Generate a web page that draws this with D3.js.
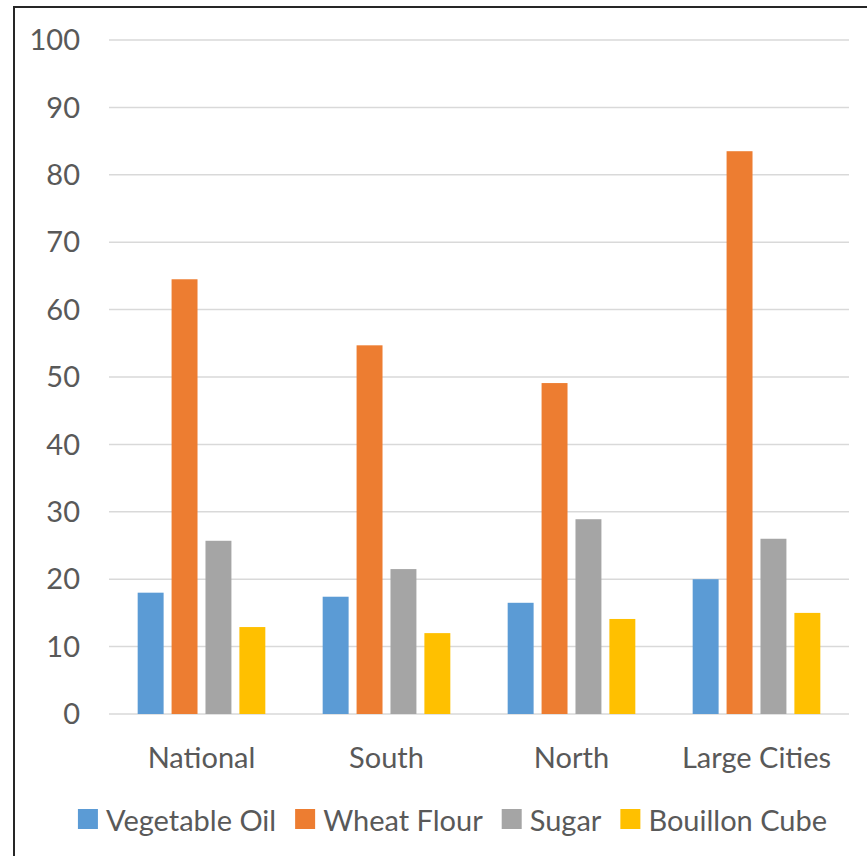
<!DOCTYPE html>
<html>
<head>
<meta charset="utf-8">
<script src="https://cdn.jsdelivr.net/npm/d3@7"></script>
<style>
  body { margin: 0; background: #fff; }
  svg text { font-family: Lato, "Open Sans", sans-serif; fill: #595959; }
</style>
</head>
<body>
<div id="chart"></div>
<script>
// chart data
var regions = ["National", "South", "North", "Large Cities"];
var products = ["Vegetable Oil", "Wheat Flour", "Sugar", "Bouillon Cube"];
var vegetableOil = [18.0, 17.4, 16.5, 20.0];
var wheatFlour = [64.5, 54.7, 49.1, 83.5];
var sugar = [25.7, 21.5, 28.9, 26.0];
var bouillonCube = [12.9, 12.0, 14.1, 15.0];
var yTicks = [0, 10, 20, 30, 40, 50, 60, 70, 80, 90, 100];

var colors = ["#5B9BD5", "#ED7D31", "#A5A5A5", "#FFC000"];
var series = [vegetableOil, wheatFlour, sugar, bouillonCube];

var width = 867, height = 856;
var svg = d3.select("#chart").append("svg")
    .attr("width", width)
    .attr("height", height);

// chart border (right / bottom edges fall outside the picture)
svg.append("rect")
    .attr("x", 14).attr("y", 7)
    .attr("width", 870).attr("height", 870)
    .attr("fill", "none")
    .attr("stroke", "#262626")
    .attr("stroke-width", 2);

var plotLeft = 109, plotRight = 849, plotTop = 40, plotBottom = 714;

var y = d3.scaleLinear().domain([0, 100]).range([plotBottom, plotTop]);
var x0 = d3.scaleBand().domain(regions).range([plotLeft, plotRight])
    .paddingInner(0.31).paddingOuter(0.155);
var x1 = d3.scaleBand().domain(products).range([0, x0.bandwidth()])
    .paddingInner(0.235).paddingOuter(0);

// gridlines
svg.append("g").selectAll("line")
    .data(yTicks)
    .enter().append("line")
    .attr("x1", plotLeft).attr("x2", plotRight)
    .attr("y1", function(d) { return y(d); })
    .attr("y2", function(d) { return y(d); })
    .attr("stroke", "#d9d9d9")
    .attr("stroke-width", 1.5);

// y tick labels
svg.append("g").selectAll("text")
    .data(yTicks)
    .enter().append("text")
    .attr("x", 80)
    .attr("y", function(d) { return y(d); })
    .attr("dy", "0.35em")
    .attr("text-anchor", "end")
    .style("font-size", "29px")
    .text(function(d) { return d; });

// bars
var groups = svg.append("g").selectAll("g")
    .data(regions)
    .enter().append("g")
    .attr("transform", function(d) { return "translate(" + x0(d) + ",0)"; });

groups.selectAll("rect")
    .data(function(d, i) {
        return products.map(function(p, j) { return {product: p, value: series[j][i], idx: j}; });
    })
    .enter().append("rect")
    .attr("x", function(d) { return x1(d.product); })
    .attr("width", x1.bandwidth())
    .attr("y", function(d) { return y(d.value); })
    .attr("height", function(d) { return y(0) - y(d.value); })
    .attr("fill", function(d) { return colors[d.idx]; });

// category labels
svg.append("g").selectAll("text")
    .data(regions)
    .enter().append("text")
    .attr("x", function(d) { return x0(d) + x0.bandwidth() / 2; })
    .attr("y", 768)
    .attr("text-anchor", "middle")
    .style("font-size", "29px")
    .text(function(d) { return d; });

// legend, laid out from measured text widths and centred
var legend = svg.append("g");
var items = legend.selectAll("g")
    .data(products)
    .enter().append("g");
items.append("rect")
    .attr("width", 20).attr("height", 20)
    .attr("y", 809)
    .attr("fill", function(d, i) { return colors[i]; });
items.append("text")
    .attr("y", 831)
    .style("font-size", "29px")
    .text(function(d) { return d; });

var offsets = [], cur = 0;
items.each(function() {
    var w = d3.select(this).select("text").node().getComputedTextLength();
    offsets.push(cur);
    cur += 28 + w + 19;
});
var total = cur - 19;
var startX = 452.5 - total / 2;
items.each(function(d, i) {
    var g = d3.select(this);
    g.select("rect").attr("x", startX + offsets[i]);
    g.select("text").attr("x", startX + offsets[i] + 28);
});
</script>
</body>
</html>
